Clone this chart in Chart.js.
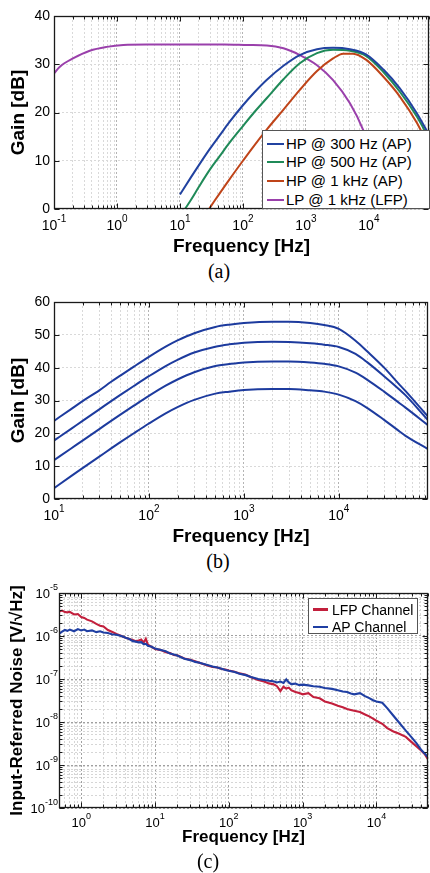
<!DOCTYPE html>
<html><head><meta charset="utf-8">
<script src="https://cdn.jsdelivr.net/npm/chart.js@4.4.0/dist/chart.umd.min.js"></script>
<style>
html,body{margin:0;padding:0;background:#fff;}
body{width:430px;height:873px;position:relative;overflow:hidden;font-family:"Liberation Sans",Arial,sans-serif;}
.cv{position:absolute;left:0;width:430px;}
.cap{position:absolute;font-family:"Liberation Serif","Times New Roman",serif;font-size:20px;color:#000;transform:translate(-50%,-50%);line-height:1;white-space:nowrap;}
.leg{position:absolute;background:#fff;border:1px solid #555;box-sizing:border-box;color:#000;font-family:"Liberation Sans",Arial,sans-serif;}
.leg .t{position:absolute;white-space:nowrap;}
.leg .l{position:absolute;}
</style></head>
<body>
<div class="cv" style="top:0;height:260px"><canvas id="ca"></canvas></div>
<div class="cv" style="top:290px;height:260px"><canvas id="cb"></canvas></div>
<div class="cv" style="top:580px;height:271px"><canvas id="cc"></canvas></div>
<div class="cap" style="left:219px;top:271px">(a)</div>
<div class="cap" style="left:218px;top:561px">(b)</div>
<div class="cap" style="left:208px;top:861px">(c)</div>
<div id="legA" class="leg" style="left:262px;top:130px;width:168px;height:79px;font-size:15px;"></div>
<div id="legC" class="leg" style="left:308px;top:598px;width:110px;height:36px;font-size:14px;"></div>
<script>
// ---------------- (a) Gain of individual filter settings ----------------
const freqA_hp300 = [10, 15, 20, 30, 43, 60, 100, 150, 240, 440, 800, 1500, 2700, 5000, 9100, 17000, 31000, 58000, 90000];
const gainA_hp300 = [3.0, 6.6, 9.1, 12.5, 15.3, 17.9, 21.5, 24.1, 26.8, 29.7, 31.9, 33.1, 33.4, 33.1, 32.0, 28.9, 25.0, 19.8, 15.4];
const freqA_hp500 = [12, 15, 20, 30, 43, 60, 100, 150, 240, 440, 800, 1500, 2700, 5000, 9100, 17000, 31000, 58000, 90000];
const gainA_hp500 = [0.0, 1.9, 4.6, 8.2, 11.0, 13.6, 17.2, 20.0, 23.0, 26.9, 30.2, 32.3, 33.0, 32.8, 31.7, 28.4, 24.3, 19.1, 14.6];
const freqA_hp1k = [29, 35, 43, 60, 100, 150, 240, 440, 800, 1500, 2700, 3900, 5600, 9100, 17000, 31000, 58000, 90000];
const gainA_hp1k = [0.0, 1.6, 3.3, 6.0, 10.0, 13.1, 16.5, 20.6, 24.7, 28.6, 31.2, 32.2, 32.2, 30.9, 27.4, 23.3, 17.8, 12.8];
const freqA_lp = [0.1, 0.124, 0.2, 0.37, 0.69, 1.26, 3, 10, 50, 120, 240, 440, 800, 1500, 2700, 5000, 8100, 15000, 25000, 50000, 90000];
const gainA_lp = [28.1, 29.5, 31.2, 32.8, 33.6, 34.0, 34.1, 34.1, 34.1, 34.0, 33.9, 33.3, 31.9, 29.8, 26.7, 21.9, 16.4, 6.5, -2, -14, -24];
const seriesA = ['HP @ 300 Hz (AP)', 'HP @ 500 Hz (AP)', 'HP @ 1 kHz (AP)', 'LP @ 1 kHz (LFP)'];
const colorsA = ['#2142a0', '#1f8a58', '#bf4419', '#9a40ab'];
const xDecadesA = [0.1, 1, 10, 100, 1000, 10000];
const xExpA = ['-1', '0', '1', '2', '3', '4'];

// ---------------- (b) Gain settings ----------------
const freqB = [10, 15, 20, 30, 40, 50, 70, 100, 150, 200, 300, 500, 700, 1000, 2000, 3000, 5000, 7000, 10000, 15000, 20000, 30000, 44000, 50000, 87000];
const gainB1 = [23.8, 27.3, 29.8, 33.1, 35.7, 37.6, 40.4, 43.3, 46.4, 48.3, 50.5, 52.4, 53.1, 53.6, 54.0, 54.0, 53.6, 53.0, 51.8, 48.2, 44.9, 40.0, 34.7, 33.0, 25.1];
const gainB2 = [17.8, 21.3, 23.8, 27.3, 29.8, 31.7, 34.5, 37.4, 40.5, 42.4, 44.6, 46.4, 47.1, 47.6, 47.9, 47.8, 47.4, 47.0, 46.3, 44.2, 41.6, 37.4, 33.2, 31.7, 24.0];
const gainB3 = [11.8, 15.3, 17.8, 21.3, 23.8, 25.7, 28.5, 31.4, 34.5, 36.4, 38.6, 40.5, 41.1, 41.6, 41.9, 41.9, 41.6, 41.2, 40.4, 38.5, 36.3, 32.7, 29.1, 27.9, 22.5];
const gainB4 = [3.3, 6.9, 9.4, 12.9, 15.4, 17.3, 20.1, 23.0, 26.1, 28.0, 30.2, 32.1, 32.7, 33.2, 33.5, 33.5, 33.1, 32.7, 31.8, 29.8, 27.7, 24.1, 20.5, 19.3, 15.2];
const xDecadesB = [10, 100, 1000, 10000];
const xExpB = ['1', '2', '3', '4'];

// ---------------- (c) Input-referred noise ----------------
const freqC = [0.5,0.55,0.6,0.65,0.7,0.8,0.9,1,1.1,1.2,1.4,1.6,1.8,2,2.3,2.6,3,3.5,4,4.5,5,5.5,6,6.5,7,7.5,8,9,10,12,14,16,18,20,25,30,35,40,50,60,70,80,90,100,120,140,170,200,250,300,350,400,450,500,550,600,650,700,800,900,1000,1200,1400,1700,2000,2500,3000,3500,4000,4500,5000,6000,7000,8000,9000,10000,12000,14000,17000,20000,25000,30000,35000,40000,45000,50000];
const noiseLFP = [3.7e-6,3.9e-6,3.6e-6,3.55e-6,3.65e-6,3.16e-6,3.24e-6,2.75e-6,2.63e-6,2.40e-6,2.19e-6,1.91e-6,1.74e-6,1.66e-6,1.38e-6,1.26e-6,1.12e-6,1.0e-6,9.1e-7,8.5e-7,8.1e-7,7.6e-7,7.9e-7,8.3e-7,7.0e-7,8.6e-7,6.3e-7,5.6e-7,5.0e-7,4.7e-7,4.2e-7,4.0e-7,3.6e-7,3.55e-7,3.0e-7,2.8e-7,2.6e-7,2.4e-7,2.1e-7,1.9e-7,1.86e-7,1.7e-7,1.66e-7,1.58e-7,1.48e-7,1.35e-7,1.26e-7,1.10e-7,9.5e-8,8.7e-8,7.9e-8,7.6e-8,6.8e-8,5.2e-8,6.6e-8,6.0e-8,6.3e-8,5.5e-8,5.0e-8,4.7e-8,4.4e-8,4.7e-8,3.8e-8,3.55e-8,3.0e-8,2.7e-8,2.4e-8,2.2e-8,2.0e-8,1.9e-8,1.82e-8,1.7e-8,1.5e-8,1.35e-8,1.2e-8,1.07e-8,9.1e-9,7.2e-9,6.0e-9,5.4e-9,4.5e-9,3.4e-9,2.7e-9,2.2e-9,1.8e-9,1.35e-9];
const noiseAP = [1.12e-6,1.26e-6,1.38e-6,1.32e-6,1.41e-6,1.29e-6,1.45e-6,1.35e-6,1.41e-6,1.29e-6,1.35e-6,1.23e-6,1.29e-6,1.20e-6,1.17e-6,1.10e-6,1.07e-6,1.0e-6,9.1e-7,8.5e-7,7.6e-7,7.4e-7,7.1e-7,7.2e-7,6.5e-7,6.6e-7,5.9e-7,5.6e-7,5.1e-7,4.7e-7,4.4e-7,3.9e-7,3.7e-7,3.5e-7,2.95e-7,2.75e-7,2.5e-7,2.4e-7,2.15e-7,1.95e-7,1.86e-7,1.74e-7,1.62e-7,1.55e-7,1.45e-7,1.32e-7,1.23e-7,1.12e-7,1.0e-7,9.5e-8,9.1e-8,8.9e-8,8.3e-8,8.7e-8,8.1e-8,9.8e-8,8.3e-8,7.6e-8,7.8e-8,7.2e-8,7.4e-8,7.1e-8,6.8e-8,6.6e-8,6.2e-8,5.9e-8,5.5e-8,5.1e-8,5.0e-8,4.6e-8,4.4e-8,4.7e-8,4.0e-8,3.6e-8,3.2e-8,3.0e-8,2.8e-8,2.1e-8,1.4e-8,1.0e-8,6.3e-9,4.4e-9,3.2e-9,2.3e-9,1.86e-9,1.5e-9];
const seriesC = ['LFP Channel', 'AP Channel'];
const colorsC = ['#c21f3c', '#1f3fa3'];
const xDecadesC = [0.1, 1, 10, 100, 1000, 10000];
const xLabelDecC = [1, 10, 100, 1000, 10000];
const xExpC = ['0', '1', '2', '3', '4'];
const yDecadesC = [1e-10, 1e-9, 1e-8, 1e-7, 1e-6, 1e-5];
const yExpC = ['-10', '-9', '-8', '-7', '-6', '-5'];

// ---------------- helpers ----------------
const FONT = '"Liberation Sans", Arial, Helvetica, sans-serif';
function isDecade(v){ const l = Math.log10(v); return Math.abs(l - Math.round(l)) < 1e-6; }
function logTickValues(decades, min, max){
  const out = [];
  for (const d of decades) for (let m = 1; m <= 9; m++) {
    const v = parseFloat((d * m).toPrecision(8));
    if (v >= min * (1 - 1e-9) && v <= max * (1 + 1e-9)) out.push(v);
  }
  return out;
}
function toXY(xs, ys){ return xs.map((x, i) => ({x: x, y: ys[i]})); }
function drawSup(ctx, x, y, base, exp, fb, fe, raise, align){
  ctx.font = fb; const wb = ctx.measureText(base).width;
  ctx.font = fe; const we = ctx.measureText(exp).width;
  const tot = wb + we;
  const x0 = align === 'right' ? x - tot : x - tot / 2;
  ctx.textAlign = 'left'; ctx.textBaseline = 'alphabetic'; ctx.fillStyle = '#000';
  ctx.font = fb; ctx.fillText(base, x0, y);
  ctx.font = fe; ctx.fillText(exp, x0 + wb, y - raise);
}

function makeChart(c){
  const xTicks = logTickValues(c.xDecades, c.xMin, c.xMax);
  const yTicks = c.yLog ? logTickValues(c.yDecades, c.yMin, c.yMax) : null;
  const gridCol = (ctx) => (ctx.tick && isDecade(ctx.tick.value)) ? c.gridMaj : c.gridMin;
  const plugin = {
    id: 'deco_' + c.id,
    afterDraw(chart){
      const ctx = chart.ctx, a = chart.chartArea;
      const xs = chart.scales.x, ys = chart.scales.y;
      const L = Math.round(a.left) + 0.5, R = Math.round(a.right) - 0.5;
      const T = Math.round(a.top) + 0.5, B = Math.round(a.bottom) - 0.5;
      ctx.save();
      ctx.setLineDash([]);
      ctx.strokeStyle = '#1a1a1a'; ctx.lineWidth = 1;
      ctx.beginPath();
      xs.ticks.forEach(t => {
        const px = Math.round(xs.getPixelForValue(t.value)) + 0.5;
        const len = isDecade(t.value) ? 5 : 3;
        ctx.moveTo(px, B); ctx.lineTo(px, B - len);
        ctx.moveTo(px, T); ctx.lineTo(px, T + len);
      });
      ys.ticks.forEach(t => {
        const py = Math.round(ys.getPixelForValue(t.value)) + 0.5;
        const len = c.yLog ? (isDecade(t.value) ? 5 : 3) : 5;
        ctx.moveTo(L, py); ctx.lineTo(L + len, py);
        ctx.moveTo(R, py); ctx.lineTo(R - len, py);
      });
      ctx.stroke();
      ctx.lineWidth = 1.3;
      ctx.strokeRect(L, T, R - L, B - T);
      const fb = c.tickSize + 'px ' + FONT, fe = c.expSize + 'px ' + FONT;
      c.xLabelDec.forEach((v, i) => {
        drawSup(ctx, xs.getPixelForValue(v), a.bottom + c.xLabOff, '10', c.xExp[i], fb, fe, c.raise, 'center');
      });
      if (c.yLog) {
        c.yDecades.forEach((v, i) => {
          drawSup(ctx, a.left - 1, ys.getPixelForValue(v) + c.yLabOff, '10', c.yExp[i], fb, fe, c.raise, 'right');
        });
      }
      ctx.restore();
    }
  };
  const yScale = c.yLog ? {
    type: 'logarithmic', min: c.yMin, max: c.yMax,
    afterBuildTicks: s => { s.ticks = yTicks.map(v => ({value: v})); },
    ticks: {display: false, autoSkip: false}
  } : {
    type: 'linear', min: c.yMin, max: c.yMax,
    ticks: {stepSize: c.yStep, autoSkip: false, color: '#000', padding: 4, font: {family: FONT, size: c.tickSize}}
  };
  Object.assign(yScale, {
    afterFit: s => { s.width = c.WL; s.paddingTop = 0; s.paddingBottom = 0; },
    grid: {drawTicks: false, color: c.yLog ? gridCol : c.gridMin, lineWidth: 1},
    border: {display: false, dash: [2, 2]},
    title: {display: true, text: c.yTitle, color: '#000', font: {family: FONT, size: c.yTitleSize, weight: 'bold'}, padding: {top: c.yTitlePad, bottom: 0}}
  });
  return new Chart(document.getElementById(c.id), {
    type: 'line',
    data: {datasets: c.datasets},
    options: {
      responsive: true, maintainAspectRatio: false, animation: false, events: [],
      layout: {padding: {left: 0, top: c.padTop, right: c.padRight, bottom: 0}},
      plugins: {legend: {display: false}, tooltip: {enabled: false}, title: {display: false}},
      elements: {point: {radius: 0}},
      scales: {
        x: {
          type: 'logarithmic', min: c.xMin, max: c.xMax,
          afterBuildTicks: s => { s.ticks = xTicks.map(v => ({value: v})); },
          afterFit: s => { s.height = c.HB; s.paddingLeft = 0; s.paddingRight = 0; },
          ticks: {display: false, autoSkip: false},
          grid: {drawTicks: false, color: gridCol, lineWidth: 1},
          border: {display: false, dash: [2, 2]},
          title: {display: true, text: 'Frequency [Hz]', color: '#000', font: {family: FONT, size: c.xTitleSize, weight: 'bold'}, padding: {top: 0, bottom: c.xTitlePad}}
        },
        y: yScale
      }
    },
    plugins: [plugin]
  });
}

function smoothSet(label, xs, ys, color, w){
  return {label, data: toXY(xs, ys), borderColor: color, backgroundColor: color, borderWidth: w, cubicInterpolationMode: 'monotone', pointRadius: 0, fill: false};
}

// ---------------- charts ----------------
makeChart({
  id: 'ca', xMin: 0.1, xMax: 90000, xDecades: xDecadesA, xLabelDec: xDecadesA, xExp: xExpA,
  yLog: false, yMin: 0, yMax: 40, yStep: 10,
  WL: 54, HB: 51, padTop: 16, padRight: 1,
  tickSize: 14, expSize: 10, raise: 8, xLabOff: 21,
  xTitleSize: 19, yTitleSize: 19, xTitlePad: 2, yTitlePad: 7,
  yTitle: 'Gain [dB]', gridMaj: '#b4b4b4', gridMin: '#d9d9d9',
  datasets: [
    smoothSet(seriesA[0], freqA_hp300, gainA_hp300, colorsA[0], 2),
    smoothSet(seriesA[1], freqA_hp500, gainA_hp500, colorsA[1], 2),
    smoothSet(seriesA[2], freqA_hp1k, gainA_hp1k, colorsA[2], 2),
    smoothSet(seriesA[3], freqA_lp, gainA_lp, colorsA[3], 2)
  ]
});

makeChart({
  id: 'cb', xMin: 10, xMax: 87000, xDecades: xDecadesB, xLabelDec: xDecadesB, xExp: xExpB,
  yLog: false, yMin: 0, yMax: 60, yStep: 10,
  WL: 54, HB: 51, padTop: 12, padRight: 2,
  tickSize: 14, expSize: 10, raise: 8, xLabOff: 21,
  xTitleSize: 19, yTitleSize: 19, xTitlePad: 2, yTitlePad: 7,
  yTitle: 'Gain [dB]', gridMaj: '#b4b4b4', gridMin: '#d9d9d9',
  datasets: [
    smoothSet('Gain 1', freqB, gainB1, '#1d3b9e', 2),
    smoothSet('Gain 2', freqB, gainB2, '#1d3b9e', 2),
    smoothSet('Gain 3', freqB, gainB3, '#1d3b9e', 2),
    smoothSet('Gain 4', freqB, gainB4, '#1d3b9e', 2)
  ]
});

makeChart({
  id: 'cc', xMin: 0.5, xMax: 50000, xDecades: xDecadesC, xLabelDec: xLabelDecC, xExp: xExpC,
  yLog: true, yMin: 1e-10, yMax: 1e-5, yDecades: yDecadesC, yExp: yExpC,
  WL: 59, HB: 43, padTop: 13, padRight: 2,
  tickSize: 13, expSize: 9, raise: 8, xLabOff: 19, yLabOff: 4.5,
  xTitleSize: 17, yTitleSize: 17, xTitlePad: 3, yTitlePad: 7,
  yTitle: 'Input-Referred Noise [V/\u221AHz]', gridMaj: '#a0a0a0', gridMin: '#d6d6d6',
  datasets: [
    {label: seriesC[0], data: toXY(freqC, noiseLFP), borderColor: colorsC[0], borderWidth: 2.1, tension: 0, pointRadius: 0, order: 2},
    {label: seriesC[1], data: toXY(freqC, noiseAP), borderColor: colorsC[1], borderWidth: 2.1, tension: 0, pointRadius: 0, order: 1}
  ]
});

// ---------------- HTML legends ----------------
function buildLegend(id, names, colors, widths, rowY, lineX, lineW, textX, rowH){
  const box = document.getElementById(id);
  names.forEach((n, i) => {
    const l = document.createElement('div');
    l.className = 'l';
    l.style.cssText = 'left:' + lineX + 'px;top:' + (rowY[i] - widths[i] / 2) + 'px;width:' + lineW + 'px;height:' + widths[i] + 'px;background:' + colors[i] + ';';
    box.appendChild(l);
    const t = document.createElement('div');
    t.className = 't';
    t.textContent = n;
    t.style.cssText = 'left:' + textX + 'px;top:' + (rowY[i] - rowH / 2) + 'px;line-height:' + rowH + 'px;';
    box.appendChild(t);
  });
}
buildLegend('legA', seriesA, colorsA, [2.5, 2.5, 2.5, 2.5], [13, 31, 50, 69], 4, 17, 23, 18);
buildLegend('legC', seriesC, colorsC, [2.2, 1.2], [10.5, 28], 4, 15, 23, 16);
</script>
</body></html>
